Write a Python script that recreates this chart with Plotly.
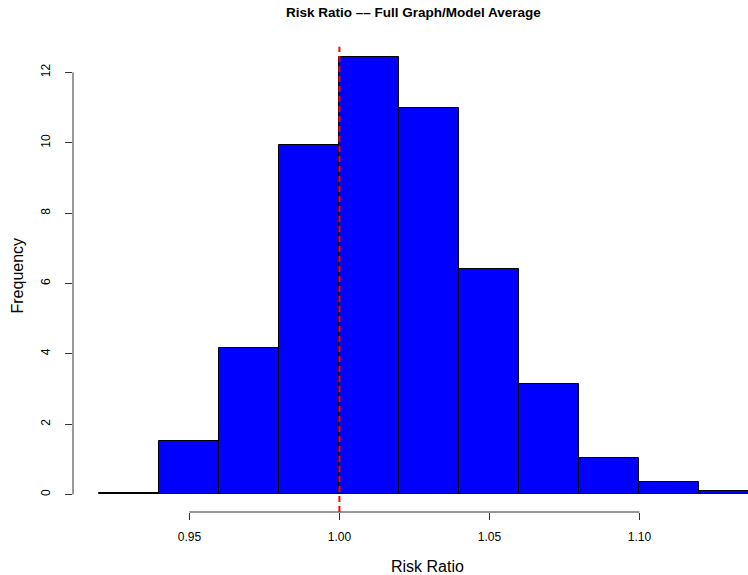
import plotly.graph_objects as go

# Data
bin_left = [0.92, 0.94, 0.96, 0.98, 1.00, 1.02, 1.04, 1.06, 1.08, 1.10, 1.12]
bin_width = 0.02
frequency = [0.04, 1.51, 4.16, 9.94, 12.45, 10.98, 6.42, 3.13, 1.05, 0.35, 0.085]
x_ticks = [0.95, 1.00, 1.05, 1.10]
x_tick_labels = ["0.95", "1.00", "1.05", "1.10"]
y_ticks = [0, 2, 4, 6, 8, 10, 12]
reference_value = 1.00

centers = [b + bin_width / 2 for b in bin_left]

FONT = "Liberation Sans, Arial, Helvetica, sans-serif"

fig = go.Figure()
fig.add_trace(go.Bar(
    x=centers, y=frequency, width=bin_width,
    marker=dict(color="#0000FF", line=dict(color="black", width=1)),
    showlegend=False, hoverinfo="x+y",
))

fig.update_layout(
    width=748, height=575,
    margin=dict(l=73, r=0, t=39, b=63, autoexpand=False),
    paper_bgcolor="white", plot_bgcolor="white",
    font=dict(family=FONT, color="black", size=12),
    bargap=0,
    xaxis=dict(
        range=[0.9112, 1.1362], showgrid=False, zeroline=False, showline=False,
        tickvals=x_ticks, ticktext=x_tick_labels, ticks="outside", ticklen=7,
        tickcolor="#333", tickwidth=1, tickfont=dict(size=12, family=FONT),
        ticklabelstandoff=7,
    ),
    yaxis=dict(
        range=[-0.498, 12.95], showgrid=False, zeroline=False, showline=False,
        tickvals=y_ticks, ticks="outside", ticklen=7, tickcolor="#333", tickwidth=1,
        tickangle=-90, tickfont=dict(size=12, family=FONT), ticklabelstandoff=10,
    ),
    shapes=[
        dict(type="line", xref="x", yref="paper", x0=x_ticks[0], x1=x_ticks[-1],
             y0=0, y1=0, line=dict(color="#333", width=1)),
        dict(type="line", xref="paper", yref="y", x0=0, x1=0,
             y0=y_ticks[0], y1=y_ticks[-1], line=dict(color="#333", width=1)),
        dict(type="line", xref="x", yref="y", x0=reference_value, x1=reference_value,
             y0=-0.498, y1=12.73, line=dict(color="red", width=2, dash="6px,4px")),
    ],
    annotations=[
        dict(text="<b>Risk Ratio –– Full Graph/Model Average</b>", xref="paper", yref="paper",
             x=0.505, y=1, yshift=27, xanchor="center", yanchor="middle", showarrow=False,
             font=dict(size=13.5, family=FONT)),
        dict(text="Risk Ratio", xref="paper", yref="paper", x=0.525, y=0, yshift=-54,
             xanchor="center", yanchor="middle", showarrow=False,
             font=dict(size=16, family=FONT)),
        dict(text="Frequency", xref="paper", yref="paper", x=0, xshift=-56, y=0.5,
             xanchor="center", yanchor="middle", textangle=-90, showarrow=False,
             font=dict(size=16, family=FONT)),
    ],
)

fig.write_html("out.html", config={"displayModeBar": False},
               post_script="document.body.style.margin='0';")
